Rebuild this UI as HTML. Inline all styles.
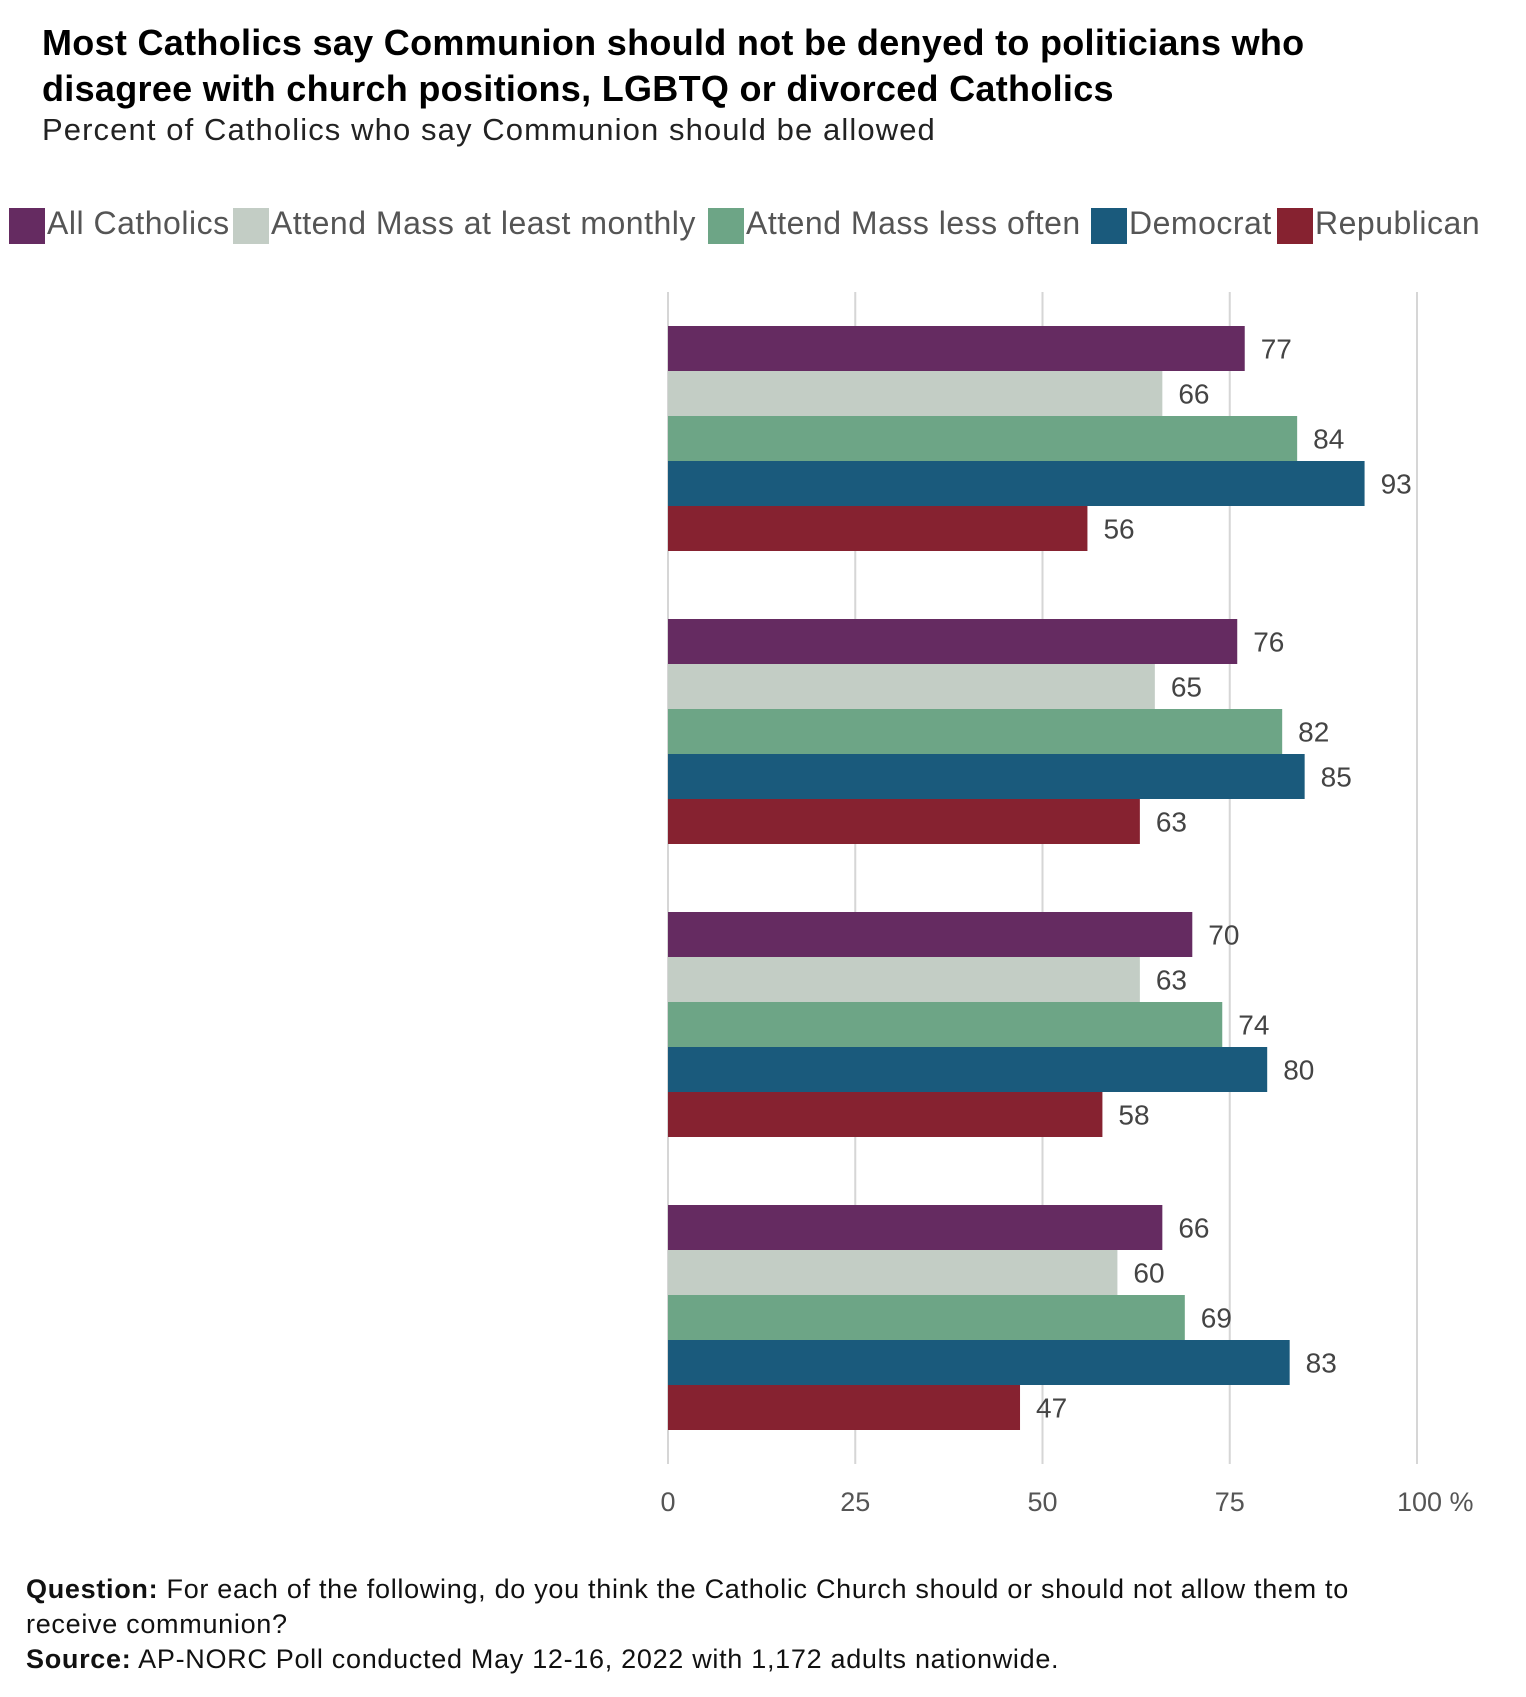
<!DOCTYPE html>
<html><head><meta charset="utf-8"><style>
body{margin:0;background:#fff;font-family:"Liberation Sans",sans-serif;}
#wrap{position:relative;width:1526px;height:1697px;overflow:hidden;}
.t{position:absolute;white-space:nowrap;}
</style></head><body>
<div id="wrap">
<div class="t" style="left:42px;top:20px;font-size:36px;font-weight:bold;line-height:46px;color:#000;letter-spacing:0.3px;">Most Catholics say Communion should not be denyed to politicians who<br>disagree with church positions, LGBTQ or divorced Catholics</div>
<div class="t" style="left:42px;top:112px;font-size:31px;color:#222;letter-spacing:1.1px;">Percent of Catholics who say Communion should be allowed</div>
<div id="legend"></div>
<svg id="chart" width="1526" height="1697" style="position:absolute;left:0;top:0"></svg>
<div class="t" style="left:26px;top:1572px;font-size:27px;line-height:35px;color:#111;letter-spacing:0.7px;"><b>Question:</b> For each of the following, do you think the Catholic Church should or should not allow them to<br>receive communion?<br><b>Source:</b> AP-NORC Poll conducted May 12-16, 2022 with 1,172 adults nationwide.</div>
</div>
<script>
const categories=["Politicians who disagree","LGBTQ","Divorced","Other"];
const seriesNames=["All Catholics","Attend Mass at least monthly","Attend Mass less often","Democrat","Republican"];
const allCatholics=[77,76,70,66];
const monthly=[66,65,63,60];
const lessOften=[84,82,74,69];
const democrat=[93,85,80,83];
const republican=[56,63,58,47];
const ticks=[0,25,50,75,100];
const tickLabels=["0","25","50","75","100 %"];
const colors=["#652b61","#c3cdc5","#6da586","#1a5a7c","#862230"];
const series=[allCatholics,monthly,lessOften,democrat,republican];
const NS="http://www.w3.org/2000/svg";
const svg=document.getElementById('chart');
const X0=668,X1=1417;
function xs(v){return X0+(X1-X0)*v/100;}
function gy(i){return 326+i*293;}
const BH=45;
ticks.forEach((t,i)=>{
 const l=document.createElementNS(NS,'line');
 l.setAttribute('x1',xs(t));l.setAttribute('x2',xs(t));l.setAttribute('y1',292);l.setAttribute('y2',1464);
 l.setAttribute('stroke','#d6d6d6');l.setAttribute('stroke-width','2');
 
 
 svg.appendChild(l);
 const tx=document.createElementNS(NS,'text');
 tx.setAttribute('x',xs(t));tx.setAttribute('y',1511);tx.setAttribute('text-anchor',i==4?'start':'middle');
 if(i==4)tx.setAttribute('x',xs(t)-20);
 tx.setAttribute('font-size','27');tx.setAttribute('fill','#555');tx.setAttribute('font-family','Liberation Sans, sans-serif');
 tx.textContent=tickLabels[i];
 
 
 svg.appendChild(tx);
});
categories.forEach((c,ci)=>{
 series.forEach((s,si)=>{
  const y=gy(ci)+si*BH;
  const r=document.createElementNS(NS,'rect');
  r.setAttribute('x',X0);r.setAttribute('y',y);r.setAttribute('width',xs(s[ci])-X0);r.setAttribute('height',BH);
  r.setAttribute('fill',colors[si]);
  
  
  svg.appendChild(r);
  const tx=document.createElementNS(NS,'text');
  tx.setAttribute('x',xs(s[ci])+16);tx.setAttribute('y',y+BH/2+10);
  tx.setAttribute('font-size','28');tx.setAttribute('fill','#444');tx.setAttribute('font-family','Liberation Sans, sans-serif');
  tx.textContent=s[ci];
  
  
  svg.appendChild(tx);
 });
});
const lx=[9,233,708,1091,1277];
const lg=document.getElementById('legend');
seriesNames.forEach((n,i)=>{
 const sw=document.createElement('div');
 sw.style.cssText=`position:absolute;left:${lx[i]}px;top:208px;width:36px;height:36px;background:${colors[i]}`;
 
 
 lg.appendChild(sw);
 const t=document.createElement('div');
 t.className='t';
 t.style.cssText=`left:${lx[i]+38}px;top:205px;font-size:32px;color:#555;letter-spacing:0.5px`;
 t.textContent=n;
 
 
 lg.appendChild(t);
});
</script>
</body></html>
